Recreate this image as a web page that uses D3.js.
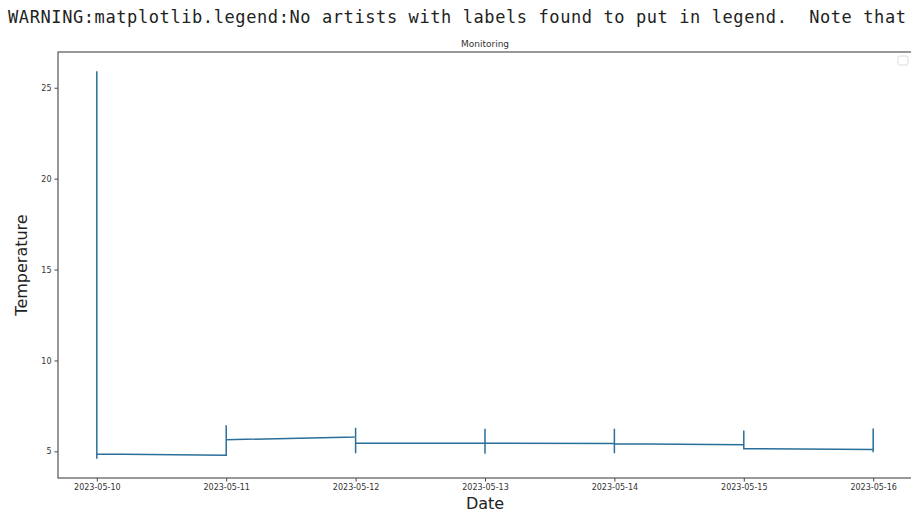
<!DOCTYPE html>
<html lang="en">

<head>
    <meta charset="UTF-8" />
    <title>Monitoring</title>
    <script src="https://d3js.org/d3.v7.js"></script>
    <style>
        body { margin: 0; background: #fff; }
    </style>
</head>

<body>
    <svg id="chart"></svg>
</body>

<script>
    // dates on the x axis, several readings per date (drawn in order)
    var dates = ["2023-05-10", "2023-05-11", "2023-05-12", "2023-05-13", "2023-05-14", "2023-05-15", "2023-05-16"]
    var readings = [
        [25.9, 4.6, 4.85],
        [4.78, 6.43, 5.64],
        [5.79, 6.3, 4.9, 5.46],
        [5.45, 6.25, 4.87, 5.45],
        [5.43, 6.25, 4.9, 5.42],
        [5.37, 6.15, 5.15],
        [5.1, 6.26, 4.95]
    ]
    var yTicks = [5, 10, 15, 20, 25]

    var width = 911
    var height = 513
    var margin = { top: 52, right: -1, bottom: 35, left: 58 }

    var svg = d3.select("#chart")
        .attr("width", width)
        .attr("height", height)

    // stray console warning printed above the figure
    svg.append("text")
        .attr("x", 8)
        .attr("y", 23)
        .attr("textLength", 898)
        .style("white-space", "pre")
        .style("font-family", "DejaVu Sans Mono, monospace")
        .style("font-size", "17px")
        .style("fill", "#222")
        .text("WARNING:matplotlib.legend:No artists with labels found to put in legend.  Note that")

    var parse = d3.timeParse("%Y-%m-%d")
    var points = []
    dates.forEach(function (d, i) {
        readings[i].forEach(function (v) {
            points.push({ date: parse(d), value: v })
        })
    })

    // matplotlib style 5% padding on both axes
    var xExt = d3.extent(points, d => d.date)
    var xPad = (xExt[1] - xExt[0]) * 0.05
    var yExt = d3.extent(points, d => d.value)
    var yPad = (yExt[1] - yExt[0]) * 0.05

    var x = d3.scaleTime()
        .domain([new Date(+xExt[0] - xPad), new Date(+xExt[1] + xPad)])
        .range([margin.left, width - margin.right])
    var y = d3.scaleLinear()
        .domain([yExt[0] - yPad, yExt[1] + yPad])
        .range([height - margin.bottom, margin.top])

    var xAxis = svg.append("g")
        .attr("transform", `translate(0, ${height - margin.bottom})`)
        .call(d3.axisBottom(x)
            .tickValues(dates.map(parse))
            .tickFormat(d3.timeFormat("%Y-%m-%d"))
            .tickSize(3.5)
            .tickPadding(3))
    var yAxis = svg.append("g")
        .attr("transform", `translate(${margin.left}, 0)`)
        .call(d3.axisLeft(y)
            .tickValues(yTicks)
            .tickSize(3.5)
            .tickPadding(3))

    ;[xAxis, yAxis].forEach(function (g) {
        g.select(".domain").remove()
        g.selectAll("line").attr("stroke", "#444")
        g.selectAll("text")
            .style("font-family", "DejaVu Sans, sans-serif")
            .style("font-size", "8px")
            .style("fill", "#333")
    })

    // axes frame
    svg.append("rect")
        .attr("x", margin.left)
        .attr("y", margin.top)
        .attr("width", width - margin.right - margin.left)
        .attr("height", height - margin.bottom - margin.top)
        .attr("fill", "none")
        .attr("stroke", "#555")
        .attr("stroke-width", 1.2)

    var line = d3.line()
        .x(d => x(d.date))
        .y(d => y(d.value))

    svg.append("path")
        .datum(points)
        .attr("d", line)
        .attr("fill", "none")
        .attr("stroke", "#2a6f9a")
        .attr("stroke-width", 1.5)

    // empty legend box
    svg.append("rect")
        .attr("x", 898)
        .attr("y", 56)
        .attr("width", 10)
        .attr("height", 9)
        .attr("rx", 2)
        .attr("fill", "#fff")
        .attr("stroke", "#ddd")

    svg.append("text")
        .attr("x", (margin.left + width - margin.right) / 2)
        .attr("y", 47)
        .attr("text-anchor", "middle")
        .style("font-family", "DejaVu Sans, sans-serif")
        .style("font-size", "9px")
        .style("fill", "#333")
        .text("Monitoring")

    svg.append("text")
        .attr("x", (margin.left + width - margin.right) / 2)
        .attr("y", 509)
        .attr("text-anchor", "middle")
        .style("font-family", "DejaVu Sans, sans-serif")
        .style("font-size", "16px")
        .style("fill", "#222")
        .text("Date")

    svg.append("text")
        .attr("transform", `translate(27, ${(margin.top + height - margin.bottom) / 2}) rotate(-90)`)
        .attr("text-anchor", "middle")
        .style("font-family", "DejaVu Sans, sans-serif")
        .style("font-size", "16px")
        .style("fill", "#222")
        .text("Temperature")
</script>

</html>
